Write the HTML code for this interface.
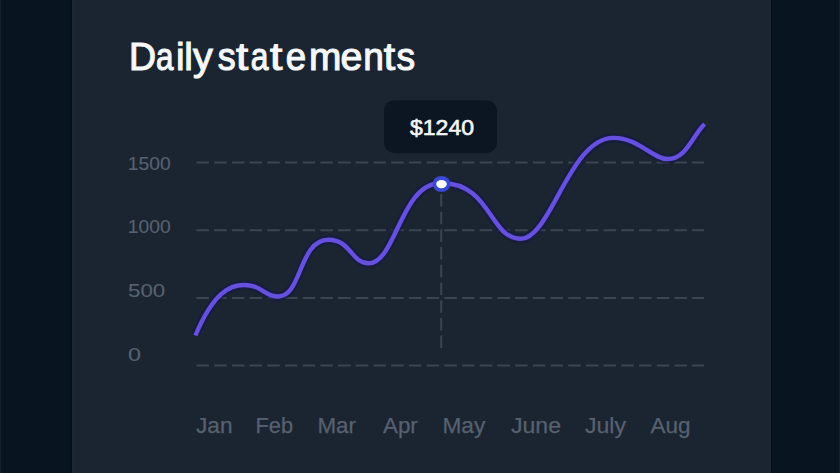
<!DOCTYPE html>
<html><head><meta charset="utf-8">
<style>
html,body{margin:0;padding:0;width:840px;height:473px;overflow:hidden;background:#08141f;}
svg{display:block;}
text{font-family:"Liberation Sans",sans-serif;}
</style></head>
<body>
<svg width="840" height="473" viewBox="0 0 840 473">
  <rect x="0" y="0" width="840" height="473" fill="#08141f"/>
  <rect x="72" y="0" width="699" height="473" fill="#1b2532"/>
  <rect x="70" y="0" width="2" height="473" fill="#05101b"/>
  <rect x="72" y="0" width="2" height="473" fill="#1d2734"/>
  <rect x="769" y="0" width="2" height="473" fill="#1d2734"/>
  <rect x="771" y="0" width="2.2" height="473" fill="#05101b"/>
  <rect x="0" y="0" width="1.2" height="473" fill="#17212d"/>
  <rect x="838.8" y="0" width="1.2" height="473" fill="#17212d"/>
  <g font-size="38.6" fill="#f5f7f9" stroke="#f5f7f9" stroke-width="1.1">
  <text transform="translate(129.06 69.6) scale(0.972 1)">D</text>
  <text transform="translate(156.09 69.6) scale(0.814 1)">a</text>
  <text transform="translate(176.05 69.6) scale(1.000 1)">i</text>
  <text transform="translate(184.25 69.6) scale(1.000 1)">l</text>
  <text transform="translate(193.00 69.6) scale(1.025 1)">y</text>
  <text transform="translate(217.87 69.6) scale(0.928 1)">s</text>
  <text transform="translate(236.00 69.6) scale(1.136 1)">t</text>
  <text transform="translate(250.68 69.6) scale(0.824 1)">a</text>
  <text transform="translate(270.12 69.6) scale(1.150 1)">t</text>
  <text transform="translate(285.85 69.6) scale(0.950 1)">e</text>
  <text transform="translate(308.89 69.6) scale(1.007 1)">m</text>
  <text transform="translate(340.48 69.6) scale(1.020 1)">e</text>
  <text transform="translate(363.28 69.6) scale(0.961 1)">n</text>
  <text transform="translate(383.80 69.6) scale(1.064 1)">t</text>
  <text transform="translate(396.43 69.6) scale(0.967 1)">s</text>
  </g>
  <rect x="384" y="100.2" width="113" height="53" rx="10.5" fill="#0b1622"/>
  <text x="410" y="135.3" font-size="22" fill="#f4f6f8" stroke="#f4f6f8" stroke-width="0.6" textLength="64" lengthAdjust="spacingAndGlyphs">$1240</text>
  <g fill="#57616f" stroke="#57616f" stroke-width="0.1" font-size="17.8">
    <text x="127.8" y="169.8" textLength="43" lengthAdjust="spacingAndGlyphs">1500</text>
    <text x="127.8" y="233.3" textLength="43" lengthAdjust="spacingAndGlyphs">1000</text>
    <text x="128" y="296.8" textLength="37.2" lengthAdjust="spacingAndGlyphs">500</text>
    <text x="128" y="360.5" textLength="13" lengthAdjust="spacingAndGlyphs">0</text>
  </g>
  <g stroke="#3b4552" stroke-width="2" stroke-dasharray="12.5 5.2">
    <line x1="196.5" y1="162.5" x2="704" y2="162.5"/>
    <line x1="196.5" y1="230.3" x2="704" y2="230.3"/>
    <line x1="196.5" y1="298" x2="704" y2="298"/>
    <line x1="196.5" y1="365.5" x2="704" y2="365.5"/>
    <line x1="441.2" y1="194" x2="441.2" y2="348.5"/>
  </g>
  <path fill="none" stroke="#15184a" stroke-opacity="0.6" stroke-width="9" d="M195.4 335.5 C213.8 292.0 230.3 285.0 243.9 285.0 C262.1 285.0 264.2 296.5 278.3 296.5 C301.9 296.5 298.9 239.7 328.5 239.7 C350.9 239.7 351.3 263.3 368.5 263.3 C396.1 263.3 400.4 183.0 441.1 183.0 C491.4 183.0 489.0 238.8 521.0 238.8 C550.5 238.8 569.9 137.9 613.3 137.9 C639.4 137.9 651.9 159.0 667.6 159.0 C686.0 159.0 691.2 137.9 704.5 124.0"/>
  <path fill="none" stroke="#6651de" stroke-width="4.4" d="M195.4 335.5 C213.8 292.0 230.3 285.0 243.9 285.0 C262.1 285.0 264.2 296.5 278.3 296.5 C301.9 296.5 298.9 239.7 328.5 239.7 C350.9 239.7 351.3 263.3 368.5 263.3 C396.1 263.3 400.4 183.0 441.1 183.0 C491.4 183.0 489.0 238.8 521.0 238.8 C550.5 238.8 569.9 137.9 613.3 137.9 C639.4 137.9 651.9 159.0 667.6 159.0 C686.0 159.0 691.2 137.9 704.5 124.0"/>
  <ellipse cx="441.5" cy="184" rx="8.9" ry="8.1" fill="#3b48d4"/>
  <ellipse cx="441.5" cy="184.1" rx="5.3" ry="4.1" fill="#ffffff"/>
  <g fill="#57616f" stroke="#57616f" stroke-width="0.25" font-size="22.6">
    <text x="196" y="433" textLength="36.5" lengthAdjust="spacingAndGlyphs">Jan</text>
    <text x="255.5" y="433" textLength="37.5" lengthAdjust="spacingAndGlyphs">Feb</text>
    <text x="317.5" y="433" textLength="38.5" lengthAdjust="spacingAndGlyphs">Mar</text>
    <text x="383" y="433" textLength="34.8" lengthAdjust="spacingAndGlyphs">Apr</text>
    <text x="442.5" y="433" textLength="42.8" lengthAdjust="spacingAndGlyphs">May</text>
    <text x="511" y="433" textLength="50" lengthAdjust="spacingAndGlyphs">June</text>
    <text x="585" y="433" textLength="41" lengthAdjust="spacingAndGlyphs">July</text>
    <text x="650.5" y="433" textLength="40" lengthAdjust="spacingAndGlyphs">Aug</text>
  </g>
</svg>
</body></html>
